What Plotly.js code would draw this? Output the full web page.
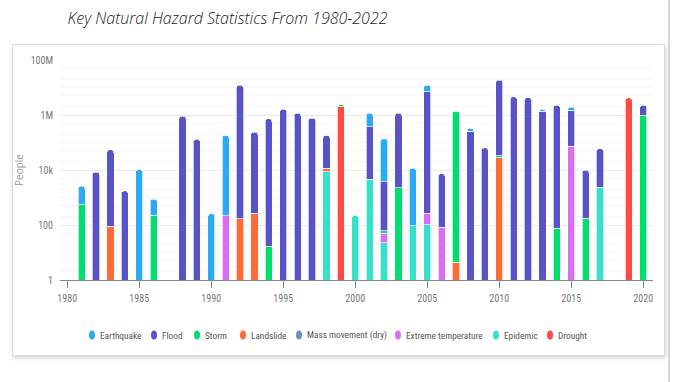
<!DOCTYPE html>
<html>
<head>
<meta charset="utf-8">
<script src="https://cdn.plot.ly/plotly-3.0.1.min.js"></script>
<style>
  html, body { margin: 0; padding: 0; background: #ffffff; width: 675px; height: 382px; overflow: hidden; }
  #card { position: absolute; left: 12px; top: 44px; width: 651px; height: 310px; background: #fff;
          border: 1px solid #dcdcdc; box-shadow: 1px 2px 4px rgba(0,0,0,0.18); }
  #vline { position: absolute; left: 668px; top: 0; width: 2px; height: 382px; background: #d6d6d6; }
  #chart { position: absolute; left: 0; top: 0; width: 675px; height: 382px; }
</style>
</head>
<body>
<div id="card"></div>
<div id="vline"></div>
<div id="chart"></div>
<script>
// Years on the x axis
const years = [1981,1982,1983,1984,1985,1986,1988,1989,1990,1991,1992,1993,1994,1995,1996,1997,1998,1999,2000,2001,2002,2003,2004,2005,2006,2007,2008,2009,2010,2011,2012,2013,2014,2015,2016,2017,2019,2020];

// People affected per hazard type (null = none), same order as years
const earthquake = [2010,null,null,null,10300,658,null,null,257,179800,null,null,null,null,null,null,null,null,null,775000,132000,null,11400,5400000,null,null,64000,null,null,null,null,250000,null,450000,null,null,null,null];
const flood      = [null,8300,54900,1730,null,null,910000,129000,null,null,12000000,240000,730000,1600000,1150000,770000,168500,null,null,370000,3740,1150000,null,6900000,7300,null,260000,64000,18700000,4600000,4300000,1350000,2240000,1430000,9600,57600,null,1270000];
const storm      = [550,null,null,null,null,222,null,null,null,null,null,null,17,null,null,null,null,400000,null,null,10,2270,null,null,null,1380000,null,null,5800,null,null,null,77,null,178,null,null,970000];
const landslide  = [null,null,89,null,null,null,null,null,null,null,172,272,null,null,null,null,2800,null,null,null,null,null,null,null,null,4.4,null,null,27700,null,null,null,null,null,null,null,null,null];
const massMovement = years.map(() => null);
const extremeTemp = [null,null,null,null,null,null,null,null,null,217,null,null,null,null,null,null,null,null,null,null,28,null,null,170,84,null,null,null,null,null,null,null,null,73500,null,null,null,null];
const epidemic   = [null,null,null,null,null,null,null,null,null,null,null,null,null,null,null,null,8700,null,222,4700,23,null,93,102,null,null,null,null,null,null,null,null,null,null,null,2400,null,null];
const drought    = [null,null,null,null,null,null,null,null,null,null,null,null,null,null,null,null,null,2000000,null,null,null,null,null,null,null,null,null,null,null,null,null,null,null,null,null,null,4200000,null];

const legendNames = ["Earthquake","Flood","Storm","Landslide","Mass movement (dry)","Extreme temperature","Epidemic","Drought"];
const colors = {
  "Earthquake":"#2ba9f3", "Flood":"#5a53c7", "Storm":"#02dd6f", "Landslide":"#ff6b36",
  "Mass movement (dry)":"#6b8cc6", "Extreme temperature":"#d86ff2", "Epidemic":"#37e1c9", "Drought":"#ff4a46"
};
// Stacking order, bottom to top
const stack = [
  ["Drought", drought], ["Epidemic", epidemic], ["Extreme temperature", extremeTemp],
  ["Mass movement (dry)", massMovement], ["Landslide", landslide], ["Storm", storm],
  ["Flood", flood], ["Earthquake", earthquake]
];

const narrow = "Liberation Sans Narrow, Arial Narrow, Roboto Condensed, sans-serif";

const traces = stack.map(([name, vals]) => ({
  type: "bar", name: name, x: years, y: vals, showlegend: false,
  marker: { color: colors[name], line: { color: "rgba(255,255,255,0.85)", width: 0.8 } },
  hoverinfo: "x+y+name"
}));

// Custom legend (circle markers + labels)
const legendPx = [92,154,197,243,299,398,496,550];
const plotL = 60, plotW = 593, plotB = 280, plotH = 220;
const shapes = [], annotations = [];
legendNames.forEach((n, i) => {
  const xp = (legendPx[i] - plotL) / plotW;
  const yp = (plotB - 335) / plotH;
  shapes.push({ type: "circle", xref: "paper", yref: "paper", xsizemode: "pixel", ysizemode: "pixel",
    xanchor: xp, yanchor: yp, x0: -3, x1: 3, y0: -4.5, y1: 4.5,
    fillcolor: colors[n], line: { width: 0 } });
  annotations.push({ xref: "paper", yref: "paper", x: xp, y: yp, xshift: 6, xanchor: "left", yanchor: "middle",
    text: n, showarrow: false, font: { family: narrow, size: 9.3, color: "#555" } });
});

const layout = {
  width: 675, height: 382,
  margin: { l: 60, r: 22, t: 60, b: 102 },
  paper_bgcolor: "rgba(0,0,0,0)", plot_bgcolor: "rgba(0,0,0,0)",
  barmode: "stack", bargap: 0.5, barcornerradius: 3,
  showlegend: false,
  title: { text: "Key Natural Hazard Statistics From 1980-2022", xref: "container", yref: "container",
    x: 0.1, xanchor: "left", y: 0.953, yanchor: "middle",
    font: { family: "Open Sans, sans-serif", size: 16, color: "#222", style: "italic", weight: 300 } },
  xaxis: {
    range: [1979.5, 2020.68], tickmode: "array", tickvals: [1980,1985,1990,1995,2000,2005,2010,2015,2020],
    ticks: "outside", ticklen: 7, tickcolor: "#888", showline: true, linecolor: "#888", linewidth: 1,
    showgrid: false, zeroline: false, ticklabelstandoff: 2,
    tickfont: { family: narrow, size: 10, color: "#777" }
  },
  yaxis: {
    type: "log", range: [0, 8], tickmode: "array",
    tickvals: [1, 100, 1e4, 1e6, 1e8], ticktext: ["1","100","10k","1M","100M"],
    showgrid: true, gridcolor: "#ebebeb", zeroline: false, showline: false, ticks: "",
    ticklabelstandoff: 6,
    minor: { showgrid: true, gridcolor: "#f6f6f6", dtick: "D2" },
    tickfont: { family: narrow, size: 10, color: "#777" },
    title: { text: "People", standoff: 5, font: { family: "Open Sans, sans-serif", size: 10, color: "#999" } }
  },
  shapes: shapes, annotations: annotations
};

Plotly.newPlot("chart", traces, layout, { displayModeBar: false, staticPlot: true });
</script>
</body>
</html>
